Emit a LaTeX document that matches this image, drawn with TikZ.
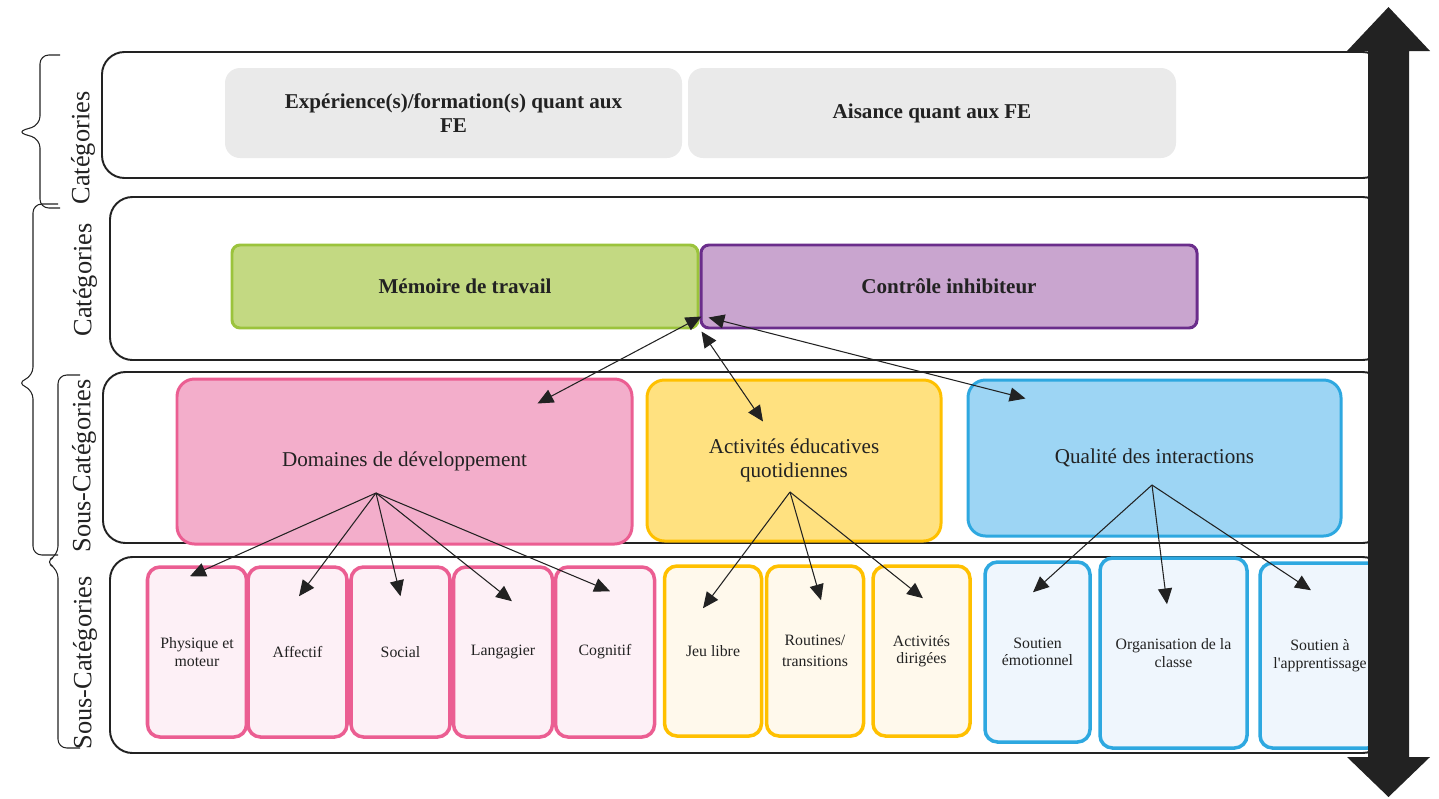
\documentclass[tikz,border=0pt]{standalone}
\usepackage{fontspec}
\setmainfont{Liberation Serif}
\usetikzlibrary{arrows.meta}

\definecolor{textgray}{HTML}{222222}
\definecolor{boxgray}{HTML}{EAEAEA}
\definecolor{memfill}{HTML}{C3D982}
\definecolor{memline}{HTML}{9BC33C}
\definecolor{ctrlfill}{HTML}{C9A5CF}
\definecolor{ctrlline}{HTML}{6A2D8B}
\definecolor{domfill}{HTML}{F3AECB}
\definecolor{domline}{HTML}{EB5E92}
\definecolor{domlight}{HTML}{FDF0F6}
\definecolor{actfill}{HTML}{FFE180}
\definecolor{actline}{HTML}{FFC000}
\definecolor{actlight}{HTML}{FFF9EC}
\definecolor{qualfill}{HTML}{9DD5F4}
\definecolor{qualline}{HTML}{2EA8E0}
\definecolor{quallight}{HTML}{EFF6FD}
\definecolor{axisgray}{HTML}{222222}

\tikzset{
  rowbox/.style={draw=textgray, line width=1.1pt, rounded corners=0.45cm},
  topbox/.style={fill=boxgray, rounded corners=0.3cm, font=\fontsize{12}{14}\selectfont\bfseries, align=center},
  febox/.style={line width=1.7pt, rounded corners=0.16cm, font=\fontsize{12}{14}\selectfont\bfseries},
  catbox/.style={line width=1.7pt, rounded corners=0.35cm, align=center, font=\fontsize{12}{13.5}\selectfont},
  subbox/.style={line width=2pt, rounded corners=0.25cm, align=center, font=\fontsize{9}{10}\selectfont},
  sidelabel/.style={rotate=90, font=\fontsize{15}{18}\selectfont},
  bracket/.style={draw=textgray, line width=0.6pt, rounded corners=5pt},
  link/.style={-{Triangle[length=9pt,width=8pt]}, line width=0.6pt, draw=textgray},
  duallink/.style={{Triangle[length=9pt,width=8pt]}-{Triangle[length=9pt,width=8pt]}, line width=0.6pt, draw=textgray},
}

\begin{document}
\begin{tikzpicture}[text=textgray]
  \useasboundingbox (0,0) rectangle (28.78,-15.96);

  % the four bands
  \node[rowbox, minimum width=25.66cm, minimum height=2.52cm] (row1) at (14.87,-2.30) {};
  \node[rowbox, minimum width=25.5cm, minimum height=3.26cm] (row2) at (14.95,-5.57) {};
  \node[rowbox, minimum width=25.64cm, minimum height=3.42cm] (row3) at (14.88,-9.15) {};
  \node[rowbox, minimum width=25.5cm, minimum height=3.92cm] (row4) at (14.95,-13.10) {};

  % braces and side labels
  \draw[bracket] (1.2,-1.1) -- (0.8,-1.1) -- (0.8,-2.5) -- (0.34,-2.64) -- (0.8,-2.78) -- (0.8,-4.16) -- (1.2,-4.16);
  \draw[bracket] (1.16,-4.08) -- (0.66,-4.08) -- (0.66,-7.52) -- (0.34,-7.66) -- (0.66,-7.8) -- (0.66,-11.1) -- (1.16,-11.1);
  \draw[bracket] (1.6,-7.5) -- (1.16,-7.5) -- (1.16,-11.1) -- (0.9,-11.24) -- (1.16,-11.38) -- (1.16,-14.96) -- (1.6,-14.96);
  \node[sidelabel] (lab1) at (1.66,-2.96) {Catégories};
  \node[sidelabel] (lab2) at (1.70,-5.60) {Catégories};
  \node[sidelabel] (lab3) at (1.68,-9.32) {Sous-Catégories};
  \node[sidelabel] (lab4) at (1.70,-13.26) {Sous-Catégories};

  % top band
  \node[topbox, minimum width=9.14cm, minimum height=1.8cm] (exp) at (9.07,-2.26) {Expérience(s)/formation(s) quant aux\\FE};
  \node[topbox, minimum width=9.76cm, minimum height=1.8cm] (ais) at (18.64,-2.26) {Aisance quant aux FE};

  % executive functions
  \node[febox, draw=memline, fill=memfill, minimum width=9.32cm, minimum height=1.66cm] (mem) at (9.30,-5.73) {Mémoire de travail};
  \node[febox, draw=ctrlline, fill=ctrlfill, minimum width=9.92cm, minimum height=1.66cm] (ctrl) at (18.98,-5.73) {Contrôle inhibiteur};

  % sub-categories
  \node[catbox, draw=domline, fill=domfill, minimum width=9.1cm, minimum height=3.3cm] (dom) at (8.09,-9.23) {Domaines de développement};
  \node[catbox, draw=actline, fill=actfill, minimum width=5.88cm, minimum height=3.22cm] (act) at (15.88,-9.21) {Activités éducatives\\quotidiennes};
  \node[catbox, draw=qualline, fill=qualfill, minimum width=7.46cm, minimum height=3.12cm] (qual) at (23.09,-9.16) {Qualité des interactions};

  % bottom band
  \node[subbox, draw=domline, fill=domlight, minimum width=1.98cm, minimum height=3.4cm] (phys) at (3.94,-13.04) {Physique et\\moteur};
  \node[subbox, draw=domline, fill=domlight, minimum width=1.98cm, minimum height=3.4cm] (aff) at (5.95,-13.04) {Affectif};
  \node[subbox, draw=domline, fill=domlight, minimum width=1.98cm, minimum height=3.4cm] (soc) at (8.01,-13.04) {Social};
  \node[subbox, draw=domline, fill=domlight, minimum width=1.98cm, minimum height=3.4cm] (lang) at (10.06,-13.04) {Langagier};
  \node[subbox, draw=domline, fill=domlight, minimum width=1.98cm, minimum height=3.4cm] (cog) at (12.10,-13.04) {Cognitif};
  \node[subbox, draw=actline, fill=actlight, minimum width=1.94cm, minimum height=3.4cm] (jeu) at (14.26,-13.02) {Jeu libre};
  \node[subbox, draw=actline, fill=actlight, minimum width=1.94cm, minimum height=3.4cm] (rout) at (16.30,-13.02) {Routines/\\[2pt]transitions};
  \node[subbox, draw=actline, fill=actlight, minimum width=1.94cm, minimum height=3.4cm] (dirig) at (18.43,-13.02) {Activités\\dirigées};
  \node[subbox, draw=qualline, fill=quallight, minimum width=2.1cm, minimum height=3.6cm] (emo) at (20.75,-13.04) {Soutien\\émotionnel};
  \node[subbox, draw=qualline, fill=quallight, minimum width=2.94cm, minimum height=3.8cm] (org) at (23.47,-13.06) {Organisation de la\\classe};
  \node[subbox, draw=qualline, fill=quallight, minimum width=2.4cm, minimum height=3.7cm] (appr) at (26.40,-13.11) {Soutien à\\l\textquotesingle apprentissage};

  % links
  \coordinate (domroot) at (7.52,-9.86);
  \coordinate (actroot) at (15.80,-9.84);
  \coordinate (qualroot) at (23.04,-9.70);
  \foreach \n/\dx/\dy in {phys/-0.14/-0.22, aff/0.03/-0.62, soc/0/-0.62, lang/0.18/-0.72, cog/0.1/-0.52}
    \draw[link] (domroot) -- ([xshift=\dx cm,yshift=\dy cm]\n.north);
  \foreach \n/\dx/\dy in {jeu/-0.2/-0.88, rout/0.12/-0.72, dirig/0.03/-0.68}
    \draw[link] (actroot) -- ([xshift=\dx cm,yshift=\dy cm]\n.north);
  \foreach \n/\dx/\dy in {emo/-0.09/-0.64, org/-0.13/-0.96, appr/-0.18/-0.58}
    \draw[link] (qualroot) -- ([xshift=\dx cm,yshift=\dy cm]\n.north);

  \draw[duallink] ([xshift=0.04cm,yshift=0.26cm]mem.south east) -- ([xshift=-1.92cm,yshift=-0.52cm]dom.north east);
  \draw[duallink] ([xshift=0.04cm,yshift=-0.04cm]mem.south east) -- ([xshift=-0.62cm,yshift=-0.86cm]act.north);
  \draw[duallink] ([xshift=0.18cm,yshift=0.24cm]ctrl.south west) -- ([xshift=1.18cm,yshift=-0.4cm]qual.north west);

  % vertical axis
  \fill[axisgray] (27.77,-0.14) -- (28.60,-1.02) -- (28.18,-1.02) -- (28.18,-15.14) -- (28.60,-15.14)
    -- (27.77,-15.94) -- (26.94,-15.14) -- (27.36,-15.14) -- (27.36,-1.02) -- (26.94,-1.02) -- cycle;
\end{tikzpicture}
\end{document}
